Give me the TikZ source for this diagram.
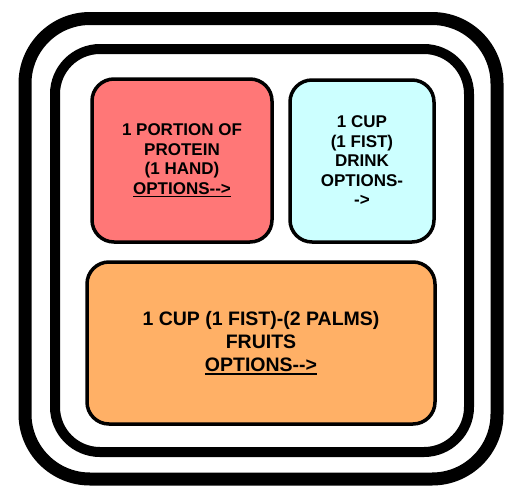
\documentclass[tikz,border=0pt]{standalone}
\usepackage{fontspec}
\setmainfont{Liberation Sans}
\usetikzlibrary{positioning}
\definecolor{proteinred}{HTML}{FF7777}
\definecolor{drinkcyan}{HTML}{CCFFFF}
\definecolor{fruitorange}{HTML}{FFB066}
\newcommand{\dd}{\mbox{-}\mbox{-}}
\newcommand{\undl}[1]{\mbox{\vtop{\hbox{#1}\kern1.8pt\hrule height1.4pt}}}

\begin{document}
\begin{tikzpicture}[
  x=1pt, y=-1pt,
  box/.style={draw=black, line width=3.5pt, rounded corners=22pt, align=center, inner sep=0pt, font=\bfseries\fontsize{17}{19.5}\selectfont},
  rim/.style={draw=black, line width=#1}
]
\useasboundingbox (0,0) rectangle (506,485);

% Plate rims
\draw[rim=13pt, rounded corners=65pt] (25,18.5) rectangle (497,479);
\draw[rim=10pt, rounded corners=45pt] (55,49) rectangle (469,452);

% Protein
\node[box, fill=proteinred, minimum width=180pt, minimum height=163pt] (protein) at (182,160.5)
  {1 PORTION OF\\PROTEIN\\(1 HAND)\\\undl{OPTIONS\dd>}};

% Drink
\node[box, fill=drinkcyan, minimum width=144pt, minimum height=162pt] (drink) at (362,161)
  {1 CUP\\(1 FIST)\\DRINK\\OPTIONS-\\\mbox{-}>};

% Fruits
\node[box, fill=fruitorange, minimum width=348pt, minimum height=162pt,
  font=\bfseries\fontsize{19.5}{23}\selectfont] (fruits) at (261,343)
  {1 CUP (1 FIST)-(2 PALMS)\\FRUITS\\\undl{OPTIONS\dd>}};
\end{tikzpicture}
\end{document}
